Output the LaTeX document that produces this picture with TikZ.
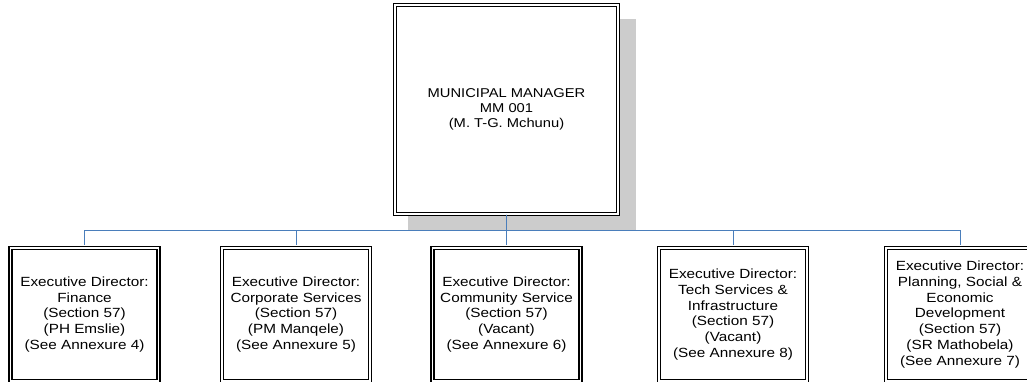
\documentclass[tikz,border=0pt]{standalone}
\usepackage{fontspec}
\setmainfont[FakeStretch=1.15]{Liberation Sans}
\definecolor{linkblue}{RGB}{74,126,187}
\definecolor{shadowgray}{RGB}{204,204,204}
\tikzset{
  orgbox/.style={draw=black, fill=white, double=white, line width=1.1pt, double distance=1.9pt,
    align=center, inner sep=0pt},
  topbox/.style={orgbox, minimum width=223pt, minimum height=209pt, font=\fontsize{12.8}{15}\selectfont},
  childbox/.style={orgbox, minimum width=148pt, minimum height=133pt, font=\fontsize{13.3}{15.8}\selectfont},
  link/.style={draw=linkblue, line width=1pt}
}
\begin{document}
\begin{tikzpicture}[x=1pt,y=1pt]
\useasboundingbox (0,0) rectangle (1027,-381);
\clip (0,0) rectangle (1027,-381);
% shadow of the top box
\fill[shadowgray] (408,-19) rectangle (636,-231);
\node[topbox] (mm) at (506.5,-109.5) {MUNICIPAL MANAGER\\MM 001\\(M. T-G. Mchunu)};
\coordinate (bus) at (0,-230);
\node[childbox] (c1) at (84.5,-314.5) {Executive Director:\\Finance\\(Section 57)\\(PH Emslie)\\(See Annexure 4)};
\node[childbox] (c2) at (296,-314.5) {Executive Director:\\Corporate Services\\(Section 57)\\(PM Manqele)\\(See Annexure 5)};
\node[childbox] (c3) at (506.5,-314.5) {Executive Director:\\Community Service\\(Section 57)\\(Vacant)\\(See Annexure 6)};
\node[childbox] (c4) at (733,-314.5) {Executive Director:\\Tech Services \&\\Infrastructure\\(Section 57)\\(Vacant)\\(See Annexure 8)};
\node[childbox] (c5) at (960,-314.5) {Executive Director:\\Planning, Social \&\\Economic\\Development\\(Section 57)\\(SR Mathobela)\\(See Annexure 7)};
\foreach \c in {c1,c2,c3,c4,c5}{
  \draw[link] (mm.south) -- (mm.south |- bus) -| ([yshift=2pt]\c.north);
}
\end{tikzpicture}
\end{document}
